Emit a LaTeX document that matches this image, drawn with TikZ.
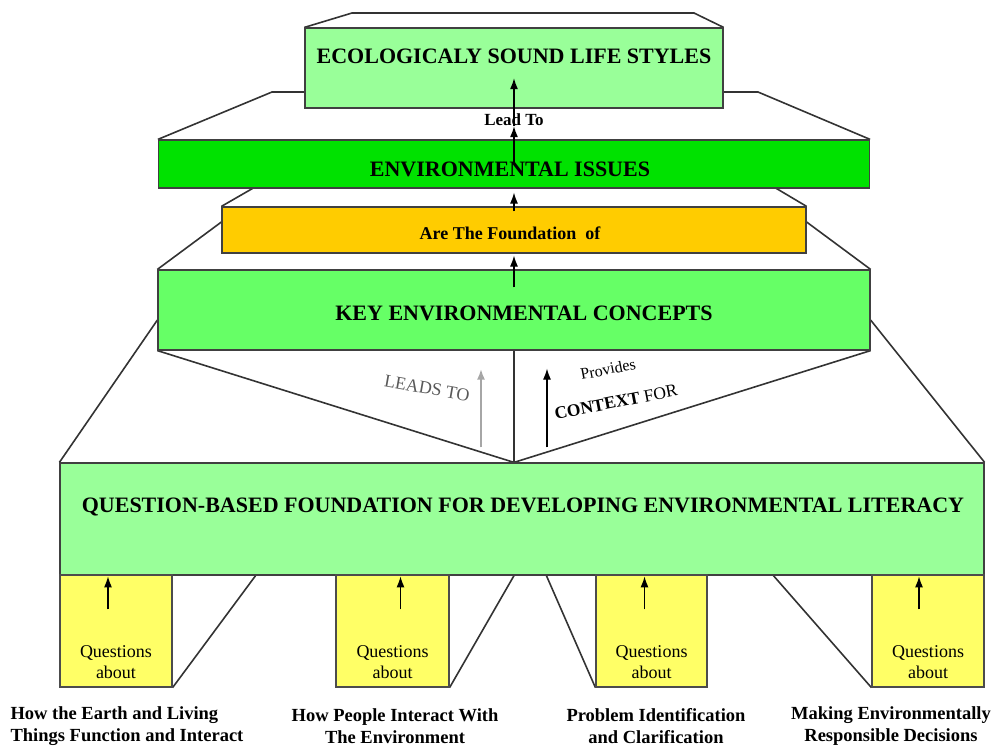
\documentclass[tikz,border=0pt]{standalone}
\usepackage{fontspec}
\setmainfont{Liberation Serif}
\usetikzlibrary{arrows.meta,backgrounds}
\definecolor{palegreen}{RGB}{153,255,153}
\definecolor{issuegreen}{RGB}{0,226,0}
\definecolor{conceptgreen}{RGB}{102,255,102}
\definecolor{foundorange}{RGB}{255,204,0}
\definecolor{askyellow}{RGB}{255,255,102}

\begin{document}
\begin{tikzpicture}[x=1pt, y=-1pt,
  tier/.style={draw=black!75, line width=1.2pt, inner sep=0pt},
  tiertext/.style={font=\bfseries\fontsize{22}{26}\selectfont, inner sep=1pt},
  askbox/.style={draw=black!70, fill=askyellow, line width=1.2pt, minimum height=112pt, inner sep=0pt},
  asktext/.style={align=center, font=\fontsize{18}{21}\selectfont, inner sep=0pt},
  topic/.style={align=center, font=\bfseries\fontsize{18.5}{22}\selectfont, inner sep=0pt},
  outline/.style={draw=black!80, line width=1.6pt},
  edge/.style={-{Latex[length=11pt, width=8pt]}, line width=1.2pt}
]
\useasboundingbox (0,0) rectangle (994,747);

% tiers, top to bottom
\node[tier, fill=palegreen, minimum width=418pt, minimum height=80pt] (lifestyles) at (514,68) {};
\node[tier, fill=issuegreen, minimum width=711pt, minimum height=48pt] (issues) at (514,164) {};
\node[tier, fill=foundorange, minimum width=584pt, minimum height=46pt] (foundation) at (514,230) {};
\node[tier, fill=conceptgreen, minimum width=712pt, minimum height=80pt] (concepts) at (514,310) {};
\node[tier, fill=palegreen, minimum width=924pt, minimum height=112pt] (qbase) at (522,519) {};
\coordinate (apex) at (concepts.south |- qbase.north);

\node[tiertext] (lifestylestext) at (514,56) {ECOLOGICALY SOUND LIFE STYLES};
\node[tiertext] (issuestext) at (510,169) {ENVIRONMENTAL ISSUES};
\node[tiertext, font=\bfseries\fontsize{18}{20}\selectfont] (foundationtext) at (510,233) {Are The Foundation~ of};
\node[tiertext] (conceptstext) at (524,313) {KEY ENVIRONMENTAL CONCEPTS};
\node[tiertext] (qbasetext) at (523,507) {QUESTION-BASED FOUNDATION FOR DEVELOPING ENVIRONMENTAL LITERACY};
\node[font=\bfseries\fontsize{17}{19}\selectfont, inner sep=0pt] (leadto) at (514,120) {Lead To};

% question boxes
\node[askbox, minimum width=112pt] (q1) at (116,631) {};
\node[askbox, minimum width=113pt] (q2) at (392.5,631) {};
\node[askbox, minimum width=111pt] (q3) at (651.5,631) {};
\node[askbox, minimum width=112pt] (q4) at (928,631) {};
\foreach \q in {q1,q2,q3,q4}
  \node[asktext] (\q text) at ([yshift=-31pt]\q.center) {Questions\\about};

\node[topic, align=left] (earth) at (127,726) {How the Earth and Living\\Things Function and Interact};
\node[topic] (people) at (395,726) {How People Interact With\\The Environment};
\node[topic] (problem) at (656,726) {Problem Identification\\and Clarification};
\node[topic] (decisions) at (891,726) {Making Environmentally\\Responsible Decisions};

% slanted labels
\node[font=\fontsize{18}{20}\selectfont, text=black!65, rotate=-10, inner sep=0pt] (leadsto) at (427,388) {LEADS TO};
\node[font=\fontsize{16}{18}\selectfont, rotate=11, inner sep=0pt] (provides) at (608,369) {Provides};
\node[font=\fontsize{17.5}{20}\selectfont, rotate=11, inner sep=0pt] (context) at (616,402) {\textbf{CONTEXT} FOR};

% outlines behind the tiers
\begin{scope}[on background layer]
\draw[outline] (lifestyles.north west) -- (352,13) -- (694,13) -- (lifestyles.north east);
\draw[outline] (issues.north west) -- (272,92) -- (758,92) -- (issues.north east);
\draw[outline] (foundation.north west) -- ++(33,-19);
\draw[outline] (foundation.north east) -- ++(-32,-19);
\draw[outline] ([yshift=8pt]foundation.west) -- (concepts.north west);
\draw[outline] ([yshift=8pt]foundation.east) -- (concepts.north east);
\draw[outline] ([yshift=-10pt]concepts.west) -- (qbase.north west);
\draw[outline] ([yshift=-10pt]concepts.east) -- (qbase.north east);
\draw[outline] (concepts.south west) -- (apex) -- (concepts.south east);
\draw[outline] (concepts.south) -- (apex);
\draw[outline] (q1.south east) -- ++(83,-112);
\draw[outline] (q2.south east) -- (apex |- qbase.south);
\draw[outline] (q3.south west) -- ++(-49,-112);
\draw[outline] (q4.south west) -- ++(-98,-112);
\end{scope}

% arrows
\draw[edge] ([yshift=1pt]issues.center) -- (leadto.south);
\draw[edge] (leadto.south) -- ++(0,-48);
\draw[edge] ([yshift=-5pt]foundation.north) -- ([yshift=-4pt]issues.south);
\draw[edge] ([yshift=-18pt]concepts.north) -- ([yshift=-2pt]foundation.south);
\draw[edge, draw=black!35, line width=2.4pt, -{Latex[length=11pt, width=8pt, fill=black]}] ([xshift=-33pt, yshift=15pt]apex) -- ([xshift=-33pt, yshift=-18pt]concepts.south);
\draw[edge] ([xshift=33pt, yshift=15pt]apex) -- ([xshift=33pt, yshift=-18pt]concepts.south);
\foreach \q/\dx in {q1/-8, q2/8, q3/-7, q4/-9}
  \draw[edge] ([xshift=\dx pt, yshift=-35pt]\q.north) -- ([xshift=\dx pt, yshift=-2pt]\q.north);
\end{tikzpicture}
\end{document}
